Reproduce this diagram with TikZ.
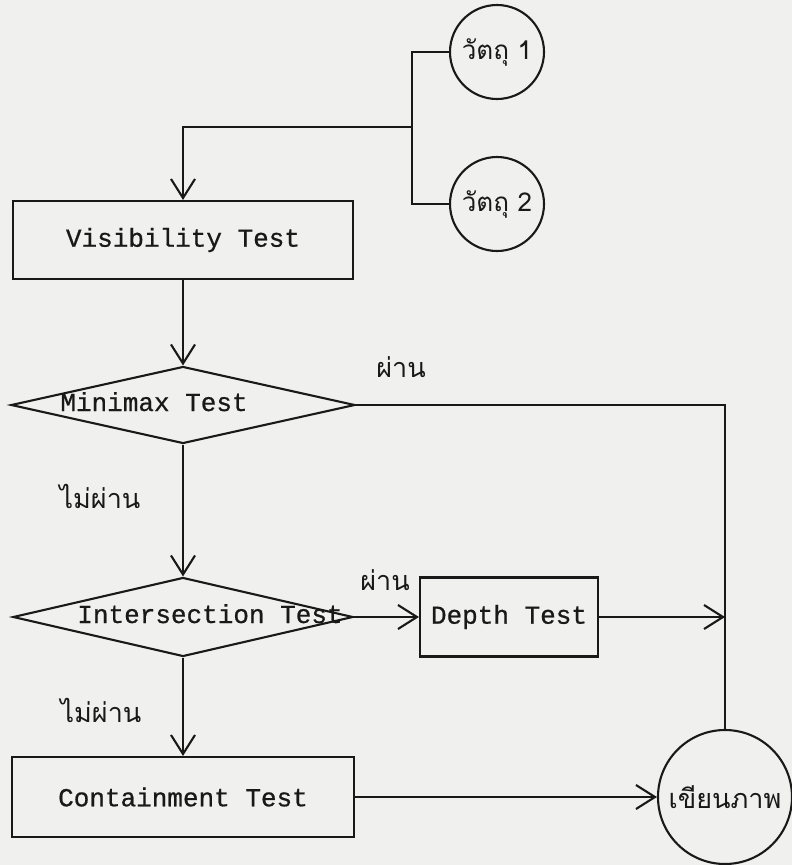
\documentclass[tikz,border=0pt]{standalone}
\usepackage{fontspec}
\newfontfamily\typew[FakeBold=0.7]{Liberation Mono}
\newfontfamily\thaifont[Script=Thai]{Loma}
\usetikzlibrary{arrows.meta,shapes.geometric}
\definecolor{ink}{RGB}{25,25,25}
\definecolor{paper}{RGB}{240,240,238}
\begin{document}
\begin{tikzpicture}[x=1pt,y=-1pt,
  ln/.style={line width=2.1pt, draw=ink},
  arr/.style={ln, -{Straight Barb[length=19pt,width=24pt,line width=2.1pt]}},
  boxnode/.style={draw=ink, line width=2.1pt, rectangle, inner sep=0pt,
    font=\typew\fontsize{26}{26}\selectfont, text=ink},
  dia/.style={draw=ink, line width=2.1pt, diamond, inner sep=0pt},
  circ/.style={draw=ink, line width=2.1pt, circle, inner sep=0pt, text=ink},
  en/.style={font=\typew\fontsize{26}{26}\selectfont, text=ink, inner sep=0pt, anchor=base},
  th/.style={font=\thaifont\fontsize{27}{27}\selectfont, text=ink, inner sep=0pt, anchor=base},
]
\fill[paper] (0,0) rectangle (792,865);
\useasboundingbox (0,0) rectangle (792,865);

% source objects
\node[circ, minimum size=94pt, font=\thaifont\fontsize{26}{26}\selectfont] (o1) at (497,52) {วัตถุ 1};
\node[circ, minimum size=94pt, font=\thaifont\fontsize{26}{26}\selectfont] (o2) at (497,204) {วัตถุ 2};
\coordinate (j) at (412,127);

% process boxes
\node[boxnode, minimum width=340pt, minimum height=78pt] (vis) at (183,240) {Visibility Test};
\node[dia, minimum width=344pt, minimum height=77pt] (mm) at (183,405) {};
\node[en] (mmt) at (154,411) {Minimax Test};
\node[dia, minimum width=340pt, minimum height=79pt] (is) at (183,617) {};
\node[en] (ist) at (210,623) {Intersection Test};
\node[boxnode, minimum width=178pt, minimum height=79pt] (dp) at (509,617) {Depth Test};
\node[boxnode, minimum width=342pt, minimum height=80pt] (ct) at (183,797) {Containment Test};
\node[circ, minimum size=134pt, font=\thaifont\fontsize{27}{27}\selectfont] (wr) at (725,797) {เขียนภาพ};

% labels
\node[th] (p1) at (401,377) {ผ่าน};
\node[th] (p2) at (385,590) {ผ่าน};
\node[th] (f1) at (100,508) {ไม่ผ่าน};
\node[th] (f2) at (101,722) {ไม่ผ่าน};

% connectors
\draw[ln] (o1.west) -| (j) |- (o2.west);
\draw[arr] (j) -| (vis.north);
\draw[arr] (vis.south) -- (mm.north);
\draw[ln] (mm.east) -| (wr.north);
\draw[arr] (mm.south) -- (is.north);
\draw[arr] (is.east) -- (dp.west);
\draw[arr] (dp.east) -- (dp.east -| wr.north);
\draw[arr] (is.south) -- (ct.north);
\draw[arr] (ct.east) -- (ct.east -| wr.west);
\end{tikzpicture}
\end{document}
